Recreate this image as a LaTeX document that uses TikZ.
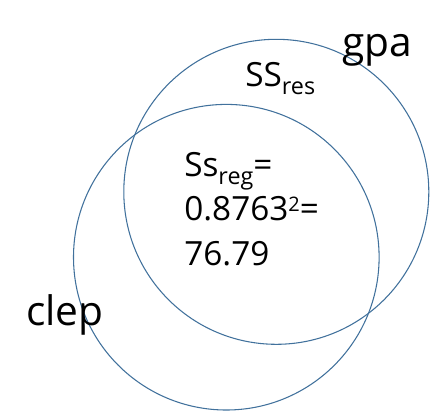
\documentclass[tikz,border=0pt]{standalone}
\usepackage{fontspec}
\setmainfont{Open Sans}
\definecolor{ring}{HTML}{41719C}
\begin{document}
\begin{tikzpicture}[x=0.75pt,y=-0.75pt,
  ringline/.style={draw=ring,line width=0.8pt},
  big/.style={inner sep=0pt,anchor=base west,font=\fontsize{30.5}{30.5}\selectfont},
  mid/.style={inner sep=0pt,anchor=base west,font=\fontsize{25}{25}\selectfont}]
\useasboundingbox (0,0) rectangle (442,411);
\draw[ringline] (276.3,191.8) circle[radius=152.5];
\draw[ringline] (226.3,257.2) circle[radius=152.8];
\node[big] (gpa) at (342,56.5) {gpa};
\node[big] (clep) at (26,325) {clep};
\node[mid] (res) at (245,86) {SS\raisebox{-6.5pt}{\fontsize{17.5}{17.5}\selectfont res}};
\node[mid] (reg1) at (184,176) {Ss\raisebox{-6pt}{\fontsize{17.5}{17.5}\selectfont reg}=};
\node[mid] (reg2) at (184,220) {0.8763\raisebox{6.5pt}{\fontsize{15}{15}\selectfont 2}=};
\node[mid] (reg3) at (184,265) {76.79};
\end{tikzpicture}
\end{document}
